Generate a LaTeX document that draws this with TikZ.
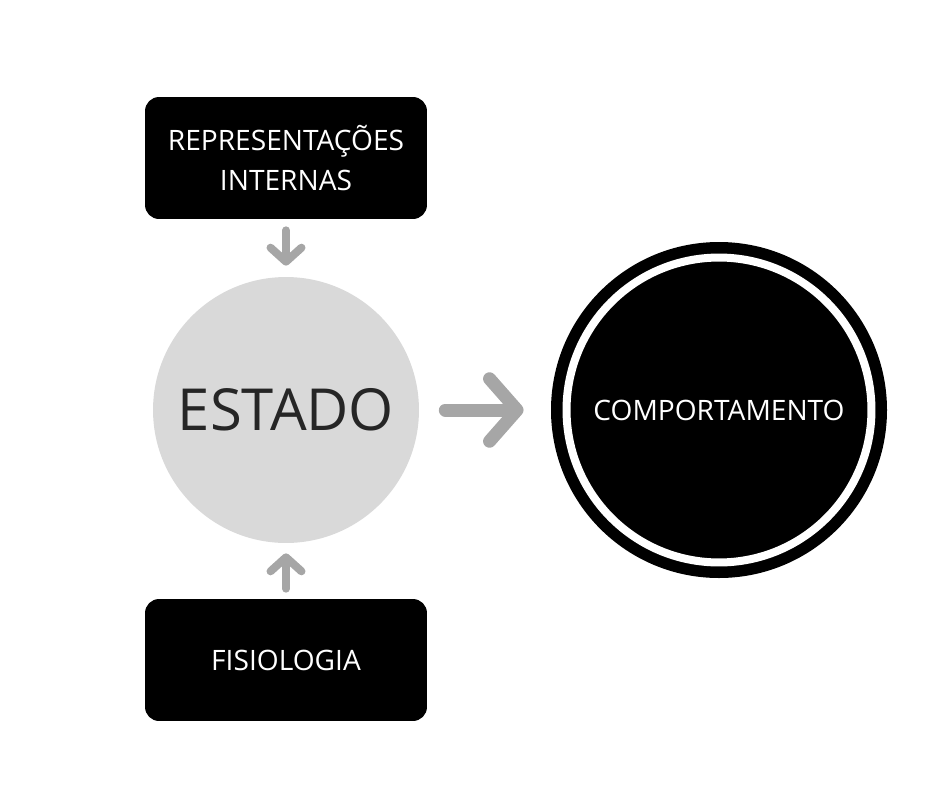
\documentclass[tikz,border=0pt]{standalone}
\usepackage{fontspec}
\setmainfont{Open Sans}
\usetikzlibrary{arrows.meta, positioning}
\definecolor{arrowgray}{RGB}{166,166,166}
\definecolor{stategray}{RGB}{217,217,217}

\begin{document}
\begin{tikzpicture}[
    x=0.02cm, y=-0.02cm,
    darkbox/.style={rectangle, fill=black, text=white, rounded corners=8pt,
        minimum width=5.64cm, minimum height=2.44cm, align=center,
        font=\fontsize{16}{23}\selectfont},
    statecircle/.style={circle, fill=stategray, minimum size=5.32cm,
        inner sep=0pt, font=\fontsize{33}{36}\selectfont, text=black!85},
    behaviour/.style={circle, fill=black, draw=white, line width=0.16cm,
        minimum size=6.1cm, inner sep=0pt, text=white,
        font=\fontsize{16}{20}\selectfont},
    smallarrow/.style={-{Straight Barb[length=0.28cm, width=0.62cm, round]},
        arrowgray, line width=0.16cm, line cap=round},
    bigarrow/.style={-{Straight Barb[length=0.55cm, width=1.25cm, round]},
        arrowgray, line width=0.26cm, line cap=round},
]
\useasboundingbox (0,0) rectangle (940,788);

% === NODES ===
\node[darkbox] (repr) at (286,158) {REPRESENTAÇÕES\\INTERNAS};
\node[statecircle] (estado) at (286,410) {ESTADO};
\node[darkbox] (fisio) at (286,660) {FISIOLOGIA};

% outer ring
\fill[black] (719,410) circle (168);
\node[behaviour] (comport) at (719,410) {COMPORTAMENTO};

% === ARROWS ===
\draw[smallarrow, shorten <=0.22cm, shorten >=0.22cm] (repr) -- (estado);
\draw[smallarrow, shorten <=0.2cm, shorten >=0.2cm] (fisio) -- (estado);
\draw[bigarrow, shorten <=0.52cm, shorten >=0.78cm] (estado) -- (comport);
\end{tikzpicture}
\end{document}
